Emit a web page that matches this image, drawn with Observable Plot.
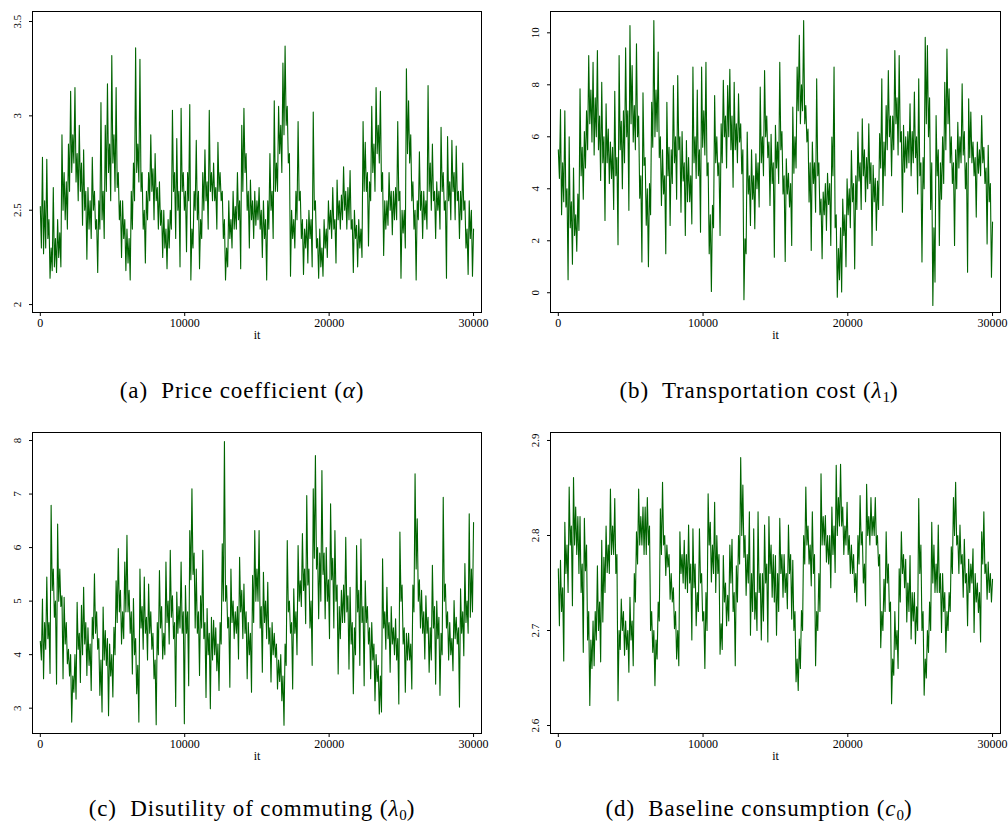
<!DOCTYPE html>
<html><head><meta charset="utf-8">
<script src="https://cdn.jsdelivr.net/npm/d3@7"></script>
<script src="https://cdn.jsdelivr.net/npm/@observablehq/plot@0.6"></script>
<style>
body{margin:0;background:#fff;}
#root{position:relative;width:1008px;height:823px;overflow:hidden;background:#fff;}
.panel{position:absolute;}
.cap{position:absolute;transform:translateX(-50%);font-family:"Liberation Serif","Times New Roman","DejaVu Serif",serif;font-size:23px;letter-spacing:0.9px;white-space:nowrap;line-height:1;color:#000;}
.cap sub{font-size:15px;letter-spacing:0;vertical-align:-4px;line-height:0;}
</style></head><body><div id="root"></div>
<script>
// MCMC thinning step (iterations between stored draws)
const thin = 75;
const xTicks = [0, 10000, 20000, 30000];
const xTickLabels = ["0", "10000", "20000", "30000"];

// (a) Price coefficient (alpha)
const alphaTrace = [
2.52,2.3,2.78,2.27,2.55,2.3,2.77,2.35,2.45,2.14,2.3,2.18,2.62,2.2,2.35,2.17,2.45,2.25,2.38,2.2,
2.9,2.5,2.7,2.45,2.65,2.4,2.85,2.6,3.13,2.7,2.9,2.75,3.15,2.65,2.8,2.55,2.95,2.6,2.75,2.42,
2.82,2.5,2.6,2.24,2.62,2.4,2.55,2.35,2.78,2.5,2.6,2.4,2.45,2.17,2.55,2.4,3.07,2.45,2.6,2.35,
2.95,2.6,3.17,2.7,2.85,2.55,3.32,2.75,2.9,2.6,3.15,2.62,2.7,2.45,2.55,2.25,2.55,2.35,2.45,2.18,
2.4,2.22,2.35,2.13,2.6,2.4,2.75,2.55,3.36,2.7,2.85,2.65,3.3,2.6,2.7,2.4,2.5,2.22,2.6,2.45,
2.7,2.55,2.9,2.6,2.72,2.45,2.8,2.55,2.62,2.4,2.65,2.42,2.5,2.25,2.5,2.3,2.4,2.19,2.45,2.3,
2.5,2.4,3.03,2.6,2.7,2.35,2.88,2.5,2.6,2.2,3.04,2.6,2.7,2.5,2.6,2.28,2.7,2.55,3.06,2.13,
2.4,2.3,2.6,2.5,2.87,2.45,2.6,2.19,2.45,2.35,2.7,2.5,2.82,2.55,2.65,2.4,3.03,2.6,2.7,2.55,
2.75,2.55,2.62,2.4,2.86,2.6,2.7,2.55,2.6,2.35,2.45,2.13,2.3,2.2,2.55,2.35,2.45,2.3,2.6,2.4,
2.52,2.4,2.7,2.45,2.55,2.19,2.95,2.6,3.04,2.7,2.8,2.5,2.6,2.3,2.66,2.45,2.55,2.35,2.6,2.42,
2.55,2.45,2.62,2.4,2.5,2.25,2.55,2.35,2.45,2.13,2.55,2.4,2.8,2.5,2.6,2.35,3.08,2.6,2.75,2.6,
3.05,2.8,2.95,2.7,3.28,2.9,3.37,2.95,3.05,2.75,2.8,2.15,2.5,2.35,2.45,2.3,2.6,2.45,2.97,2.55,
2.6,2.35,2.45,2.16,2.4,2.3,2.45,2.22,2.5,2.35,2.45,2.2,3.02,2.5,2.55,2.3,2.35,2.14,2.4,2.2,
2.3,2.15,2.45,2.3,2.4,2.25,2.55,2.4,2.5,2.35,2.62,2.4,2.45,2.22,2.66,2.45,2.55,2.4,2.58,2.45,
2.73,2.5,2.6,2.4,2.62,2.45,2.71,2.4,2.45,2.17,2.5,2.35,2.42,2.2,2.45,2.3,2.4,2.25,2.97,2.6,
2.86,2.6,2.7,2.31,2.65,2.55,3.05,2.7,2.85,2.6,3.15,2.8,2.95,2.75,3.13,2.6,2.7,2.26,2.55,2.4,
2.55,2.42,2.7,2.5,2.6,2.37,2.6,2.45,2.62,2.45,2.97,2.55,2.6,2.14,2.5,2.38,2.5,2.3,3.25,2.8,
3.08,2.75,2.9,2.55,2.65,2.4,2.5,2.13,2.55,2.45,2.81,2.5,2.6,2.35,2.6,2.45,2.55,2.4,3.16,2.6,
2.75,2.5,2.85,2.55,2.6,2.35,2.65,2.5,2.6,2.4,2.94,2.6,2.7,2.5,2.55,2.14,2.89,2.55,2.65,2.45,
2.87,2.6,2.7,2.45,2.84,2.55,2.6,2.35,2.6,2.45,2.75,2.5,2.55,2.3,2.4,2.16,2.55,2.35,2.5,2.15,2.4];
const alphaTicks = [2, 2.5, 3, 3.5];
const alphaTickLabels = ["2", "2.5", "3", "3.5"];

// (b) Transportation cost (lambda1)
const lambda1Trace = [
5.5,4.4,7.05,3.0,5.0,3.5,7.0,3.3,4.0,0.5,6.0,2.5,3.5,1.1,4.8,2.2,3.0,1.6,3.8,2.4,
7.85,4.5,5.6,3.6,6.2,4.8,7.0,5.5,9.13,6.5,7.8,5.8,8.87,5.3,7.5,6.0,9.32,5.5,6.8,4.32,
8.1,5.0,6.0,2.78,7.27,5.0,6.3,4.2,5.8,4.4,5.6,3.2,7.75,4.5,5.2,1.85,9.13,5.5,6.6,4.0,
7.0,5.0,9.42,6.0,7.0,3.17,10.28,6.5,8.74,5.8,7.2,5.5,9.58,6.0,6.8,3.64,4.5,1.18,7.69,4.9,
5.2,2.6,4.0,1.0,4.2,3.0,7.33,5.6,10.47,6.0,7.8,6.2,9.26,5.2,6.0,3.36,5.5,3.8,4.5,1.5,
7.33,4.5,5.6,2.59,5.5,4.2,7.97,5.0,6.0,3.6,8.36,5.5,6.0,3.1,6.2,4.3,5.0,2.2,5.86,3.5,
5.2,3.5,4.5,2.65,8.68,5.0,6.0,4.4,7.8,4.5,5.5,2.33,8.68,5.6,7.0,5.3,8.87,4.5,5.0,1.5,
3.0,0.05,3.36,2.5,7.59,5.0,6.0,4.5,5.0,2.2,6.5,5.0,8.17,6.0,6.8,4.8,7.97,6.0,8.6,5.5,
6.8,4.06,8.1,5.5,6.5,5.0,7.65,5.8,6.5,4.58,5.5,-0.27,2.08,1.5,6.18,3.8,4.5,2.59,5.5,3.6,
4.5,2.46,5.35,4.0,5.0,3.3,7.91,5.0,6.0,4.5,8.55,6.0,6.8,5.2,5.8,3.36,6.1,4.2,5.0,1.37,
6.44,4.8,5.8,4.2,8.87,5.5,6.2,3.8,4.5,1.2,5.15,3.8,4.6,3.3,4.2,1.82,7.14,4.6,6.0,4.8,
8.68,7.0,9.9,6.5,8.0,7.0,10.47,6.5,7.2,5.8,6.3,3.49,5.0,1.63,5.8,4.2,5.0,3.1,8.23,4.5,
5.0,3.0,3.6,1.31,3.87,3.0,4.2,2.4,4.6,3.4,4.2,1.82,5.99,4.5,8.68,2.5,3.0,-0.17,1.7,0.5,
2.5,0.03,3.6,2.2,3.0,1.0,4.38,3.0,4.0,2.5,5.47,3.5,4.2,0.92,4.5,3.2,6.18,4.3,5.0,3.2,
6.69,4.5,5.5,3.5,5.2,4.0,6.5,4.2,5.0,1.82,4.9,3.5,4.4,2.4,4.3,3.2,6.12,4.8,8.23,3.36,
5.8,4.5,7.2,5.5,8.55,6.0,6.8,4.5,6.8,5.5,9.32,6.5,7.5,5.3,9.13,5.8,6.2,3.1,6.44,4.64,
6.0,4.8,6.2,5.0,7.27,4.5,6.2,5.0,7.72,5.2,6.0,3.8,8.23,4.5,5.0,1.18,5.2,4.0,9.83,6.5,
9.51,6.0,7.5,3.2,5.0,-0.49,2.5,0.41,6.82,4.5,5.5,1.82,5.0,3.6,6.0,4.2,8.1,5.5,9.38,6.5,
7.85,5.0,6.0,4.2,5.0,1.82,5.5,4.0,6.56,4.8,6.0,5.0,8.04,5.3,6.2,4.0,5.0,0.79,7.46,5.2,
6.95,5.0,5.8,4.5,5.2,2.91,5.8,4.6,5.5,4.5,6.82,5.0,5.6,4.2,4.8,1.88,5.67,3.5,4.2,0.6,2.72];
const lambda1Ticks = [0, 2, 4, 6, 8, 10];
const lambda1TickLabels = ["0", "2", "4", "6", "8", "10"];

// (c) Disutility of commuting (lambda0)
const lambda0Trace = [
4.25,3.9,5.04,3.55,4.6,4.1,5.45,4.3,4.6,3.65,6.79,5.2,5.6,4.7,5.0,3.45,6.44,5.0,5.6,4.9,
5.1,3.55,5.07,4.2,4.6,3.83,4.1,3.6,4.0,2.74,3.6,3.3,4.0,3.17,4.98,4.1,4.4,3.48,4.92,4.0,
5.26,4.2,4.6,3.61,4.5,3.8,4.2,3.33,4.7,4.3,5.51,4.4,4.8,4.1,4.3,3.24,3.9,2.93,4.89,3.9,
4.45,3.8,4.3,2.86,4.2,3.6,4.0,3.21,4.51,4.0,5.38,4.6,5.98,4.8,5.2,4.2,4.8,4.3,5.73,4.8,
6.23,4.8,5.2,4.4,4.8,3.64,5.05,4.0,4.3,3.27,3.8,2.74,5.6,4.5,4.9,4.1,5.45,4.4,4.7,3.9,
5.32,4.4,4.8,4.1,4.4,3.55,3.9,2.69,4.6,4.0,5.57,4.5,4.9,3.92,4.4,4.0,5.73,4.6,5.0,4.2,
5.95,4.7,5.1,4.3,4.6,3.03,5.17,4.4,4.9,4.5,5.73,4.4,4.8,2.71,5.29,4.4,4.8,3.42,6.32,5.4,
7.1,5.5,5.9,4.5,5.6,4.4,4.8,3.61,5.1,4.5,5.95,4.3,4.6,3.2,4.86,4.0,4.4,2.99,4.7,3.9,
4.64,4.0,4.5,3.7,4.2,3.33,4.6,4.2,6.07,5.0,7.98,5.0,5.29,4.5,4.7,3.39,5.6,4.6,5.0,4.3,
4.8,4.4,4.9,3.92,5.82,4.8,5.2,4.3,5.32,4.4,4.8,3.55,4.6,4.0,4.4,3.3,5.48,4.6,6.32,5.0,
5.6,5.0,6.32,4.5,4.9,3.67,5.54,4.6,5.0,4.3,5.35,4.2,4.5,3.49,4.6,4.0,4.4,3.95,4.2,3.36,
3.9,3.5,4.0,3.14,3.6,2.68,4.2,3.8,6.13,4.8,5.0,4.4,4.6,3.36,5.23,4.4,4.8,4.0,6.04,5.0,
5.38,4.9,6.26,5.2,5.6,4.58,6.97,5.3,5.6,4.5,5.0,3.8,7.1,5.8,7.72,5.6,6.0,4.67,5.9,5.0,
7.44,5.5,5.9,4.67,6.0,5.0,5.4,4.3,6.82,5.4,5.8,4.5,6.32,5.0,5.3,3.64,4.9,4.3,5.2,4.6,
5.3,4.6,6.19,4.8,5.1,3.73,5.26,4.2,4.6,3.27,4.5,4.0,6.04,4.8,5.2,3.8,6.16,4.6,4.9,3.42,
5.38,4.6,4.9,4.2,4.5,3.55,4.6,3.9,4.2,3.14,4.0,3.5,3.8,2.89,3.6,2.93,5.79,4.5,4.8,4.1,
5.26,4.3,4.6,3.67,4.9,4.2,4.5,4.0,4.67,3.9,4.3,3.08,6.29,5.0,5.3,4.2,4.5,3.3,4.4,3.9,
4.4,3.9,4.2,3.36,5.3,4.8,7.38,5.6,6.54,5.0,5.4,4.5,5.2,4.4,4.8,3.92,5.1,4.4,4.7,3.67,
4.5,3.9,5.67,4.5,4.9,3.45,5.0,4.3,4.7,3.24,4.4,4.0,6.94,5.0,5.32,4.5,4.8,3.9,4.6,4.0,
4.3,3.7,5.01,4.3,4.7,4.2,4.5,3.02,5.23,4.4,4.8,3.98,5.7,4.6,5.0,4.4,6.63,4.7,5.6,4.8,6.47];
const lambda0Ticks = [3, 4, 5, 6, 7, 8];
const lambda0TickLabels = ["3", "4", "5", "6", "7", "8"];

// (d) Baseline consumption (c0)
const c0Trace = [
2.765,2.705,2.774,2.72,2.745,2.668,2.814,2.76,2.79,2.74,2.851,2.79,2.81,2.726,2.861,2.79,2.83,2.78,2.82,2.76,
2.82,2.74,2.77,2.677,2.818,2.763,2.79,2.69,2.72,2.621,2.69,2.66,2.71,2.663,2.72,2.69,2.768,2.7,2.73,2.667,
2.795,2.709,2.777,2.74,2.81,2.761,2.79,2.76,2.849,2.78,2.81,2.78,2.839,2.76,2.78,2.626,2.7,2.68,2.733,2.7,
2.72,2.674,2.71,2.68,2.70,2.656,2.735,2.69,2.71,2.663,2.76,2.73,2.804,2.77,2.849,2.79,2.82,2.79,2.83,2.78,
2.83,2.78,2.84,2.79,2.81,2.7,2.72,2.677,2.7,2.642,2.69,2.67,2.73,2.71,2.828,2.78,2.856,2.79,2.8,2.758,
2.79,2.767,2.78,2.733,2.76,2.73,2.745,2.702,2.72,2.67,2.7,2.663,2.804,2.76,2.78,2.75,2.795,2.744,2.78,2.74,
2.811,2.75,2.77,2.69,2.807,2.745,2.77,2.705,2.74,2.72,2.807,2.75,2.76,2.71,2.72,2.66,2.74,2.7,2.844,2.79,
2.814,2.751,2.79,2.76,2.835,2.74,2.8,2.76,2.78,2.675,2.707,2.68,2.779,2.73,2.75,2.705,2.737,2.71,2.79,2.75,
2.796,2.72,2.74,2.663,2.768,2.73,2.8,2.77,2.882,2.8,2.853,2.777,2.8,2.737,2.78,2.75,2.825,2.695,2.76,2.72,
2.807,2.712,2.74,2.7,2.825,2.74,2.76,2.69,2.76,2.71,2.811,2.75,2.77,2.688,2.82,2.76,2.79,2.735,2.78,2.73,
2.779,2.695,2.76,2.72,2.818,2.76,2.78,2.735,2.78,2.74,2.76,2.723,2.811,2.76,2.78,2.712,2.774,2.7,2.72,2.646,
2.67,2.637,2.691,2.66,2.721,2.7,2.8,2.77,2.851,2.79,2.81,2.77,2.79,2.747,2.825,2.76,2.78,2.663,2.72,2.7,
2.76,2.72,2.865,2.79,2.82,2.79,2.821,2.772,2.8,2.77,2.8,2.745,2.83,2.78,2.81,2.761,2.874,2.8,2.84,2.81,
2.875,2.81,2.83,2.78,2.81,2.79,2.835,2.78,2.8,2.76,2.79,2.76,2.78,2.74,2.76,2.73,2.80,2.77,2.842,2.79,
2.804,2.75,2.77,2.726,2.854,2.8,2.82,2.79,2.84,2.8,2.82,2.8,2.84,2.79,2.8,2.768,2.78,2.682,2.72,2.7,
2.754,2.72,2.804,2.75,2.77,2.72,2.73,2.623,2.67,2.653,2.72,2.68,2.7,2.66,2.765,2.73,2.804,2.76,2.78,2.745,
2.775,2.709,2.75,2.72,2.779,2.691,2.74,2.71,2.74,2.686,2.725,2.7,2.839,2.76,2.79,2.7,2.72,2.632,2.67,2.65,
2.7,2.677,2.73,2.7,2.814,2.75,2.79,2.74,2.77,2.74,2.811,2.74,2.76,2.698,2.76,2.72,2.74,2.677,2.72,2.7,
2.74,2.72,2.788,2.76,2.84,2.8,2.856,2.79,2.8,2.76,2.811,2.77,2.78,2.735,2.796,2.75,2.76,2.705,2.775,2.74,
2.77,2.75,2.786,2.698,2.76,2.73,2.75,2.719,2.74,2.688,2.804,2.77,2.825,2.76,2.77,2.733,2.772,2.74,2.76,2.73,2.754];
const c0Ticks = [2.6, 2.7, 2.8, 2.9];
const c0TickLabels = ["2.6", "2.7", "2.8", "2.9"];

const root = document.getElementById("root");
const lineColor = "#006400";
const serif = '"Liberation Serif", "Times New Roman", "DejaVu Serif", serif';

function panel(trace, yDomain, yTicks, yLabels, box) {
  const data = trace.map((v, i) => ({it: i * thin, v}));
  const chart = Plot.plot({
    width: 504, height: 350,
    marginLeft: box.ml, marginRight: box.mr, marginTop: box.mt, marginBottom: box.mb,
    style: {fontFamily: serif, fontSize: "12px", background: "transparent", color: "black", overflow: "visible"},
    x: {domain: [-540, 30550]},
    y: {domain: yDomain},
    marks: [
      Plot.line(data, {x: "it", y: "v", stroke: lineColor, strokeWidth: 1.1}),
      Plot.frame({stroke: "black", strokeWidth: 1}),
      Plot.axisX(xTicks, {tickSize: 4, tickPadding: 2, label: null, fontSize: 12,
        tickFormat: d => xTickLabels[xTicks.indexOf(d)]}),
      Plot.axisY(yTicks, {tickSize: 3, label: null, tickFormat: () => ""}),
      Plot.text(yTicks, {y: d => d, text: d => yLabels[yTicks.indexOf(d)], frameAnchor: "left",
        dx: -15, rotate: -90, textAnchor: "middle", lineAnchor: "middle", fontSize: 11}),
      Plot.text(["it"], {text: d => d, frameAnchor: "bottom", dy: 26, fontSize: 12})
    ]
  });
  const div = document.createElement("div");
  div.className = "panel";
  div.style.left = box.left + "px";
  div.style.top = box.top + "px";
  div.appendChild(chart);
  root.appendChild(div);
}

panel(alphaTrace, [1.958, 3.553], alphaTicks, alphaTickLabels, {left: 0, top: 0, ml: 32, mr: 23, mt: 11, mb: 38});
panel(lambda1Trace, [-0.76, 10.82], lambda1Ticks, lambda1TickLabels, {left: 504, top: 0, ml: 46, mr: 8, mt: 11, mb: 38});
panel(lambda0Trace, [2.527, 8.15], lambda0Ticks, lambda0TickLabels, {left: 0, top: 420, ml: 32, mr: 23, mt: 12, mb: 37});
panel(c0Trace, [2.5916, 2.9084], c0Ticks, c0TickLabels, {left: 504, top: 420, ml: 46, mr: 8, mt: 12, mb: 37});

const captions = [
  {html: "(a)&nbsp; Price coefficient (<i>α</i>)", center: 242, top: 379},
  {html: "(b)&nbsp; Transportation cost (<i>λ</i><sub>1</sub>)", center: 759, top: 379},
  {html: "(c)&nbsp; Disutility of commuting (<i>λ</i><sub>0</sub>)", center: 252, top: 797},
  {html: "(d)&nbsp; Baseline consumption (<i>c</i><sub>0</sub>)", center: 759, top: 797}
];
for (const c of captions) {
  const d = document.createElement("div");
  d.className = "cap";
  d.innerHTML = c.html;
  d.style.left = c.center + "px";
  d.style.top = c.top + "px";
  root.appendChild(d);
}
</script></body></html>
